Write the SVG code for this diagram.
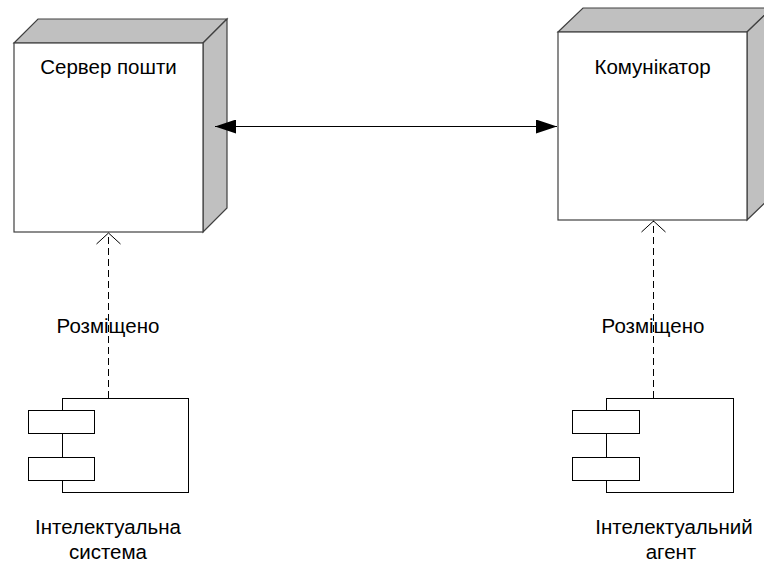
<svg xmlns="http://www.w3.org/2000/svg" width="764" height="563" viewBox="0 0 764 563">
<style>
.face{fill:#fff;stroke:#404040;stroke-width:1.2}
.side{fill:#c0c0c0;stroke:#404040;stroke-width:1.2}
.comp{fill:#fff;stroke:#000;stroke-width:1}
.t{font-family:"Liberation Sans",Arial,sans-serif;font-size:20.5px;fill:#000;text-anchor:middle}
.dash{stroke:#000;stroke-width:1;stroke-dasharray:7 4;fill:none}
</style>
<defs>
<marker id="fill" markerWidth="21" markerHeight="14" refX="21" refY="7" orient="auto-start-reverse" markerUnits="userSpaceOnUse">
<path d="M0,0 L21,7 L0,14 Z" fill="#000"/>
</marker>
<marker id="open" markerWidth="13" markerHeight="26" refX="12" refY="13" orient="auto" markerUnits="userSpaceOnUse">
<path d="M1,1 L12,13 L1,25" fill="none" stroke="#000" stroke-width="1"/>
</marker>
</defs>
<g id="server">
<polygon class="side" points="14,43 38,19 227,19 203,43"/>
<polygon class="side" points="203,43 227,19 227,208 203,232"/>
<rect class="face" x="14" y="43" width="189" height="189"/>
<text class="t" x="108.5" y="74">Сервер пошти</text>
</g>
<g id="communicator">
<polygon class="side" points="558,32 583,8 772,8 747,32"/>
<polygon class="side" points="747,32 772,8 772,196 747,220"/>
<rect class="face" x="558" y="32" width="189" height="188"/>
<text class="t" x="652.5" y="74">Комунікатор</text>
</g>
<g id="system">
<rect class="comp" x="62.5" y="398.5" width="126" height="94"/>
<rect class="comp" x="28.5" y="410.5" width="66" height="23"/>
<rect class="comp" x="28.5" y="457.5" width="66" height="23"/>
<text class="t" x="108" y="534">Інтелектуальна</text>
<text class="t" x="108" y="559">система</text>
</g>
<g id="agent">
<rect class="comp" x="606.5" y="398.5" width="127" height="94"/>
<rect class="comp" x="572.5" y="410.5" width="67" height="23"/>
<rect class="comp" x="572.5" y="457.5" width="67" height="23"/>
<text class="t" x="674" y="534">Інтелектуальний</text>
<text class="t" x="671" y="559">агент</text>
</g>
<g id="connectors">
<line x1="215" y1="126.5" x2="557" y2="126.5" stroke="#000" stroke-width="1" marker-start="url(#fill)" marker-end="url(#fill)"/>
<line class="dash" x1="108.5" y1="398" x2="108.5" y2="233" marker-end="url(#open)"/>
<line class="dash" x1="653.5" y1="398" x2="653.5" y2="221" marker-end="url(#open)"/>
<text class="t" x="108" y="333">Розміщено</text>
<text class="t" x="653" y="333">Розміщено</text>
</g>
</svg>
